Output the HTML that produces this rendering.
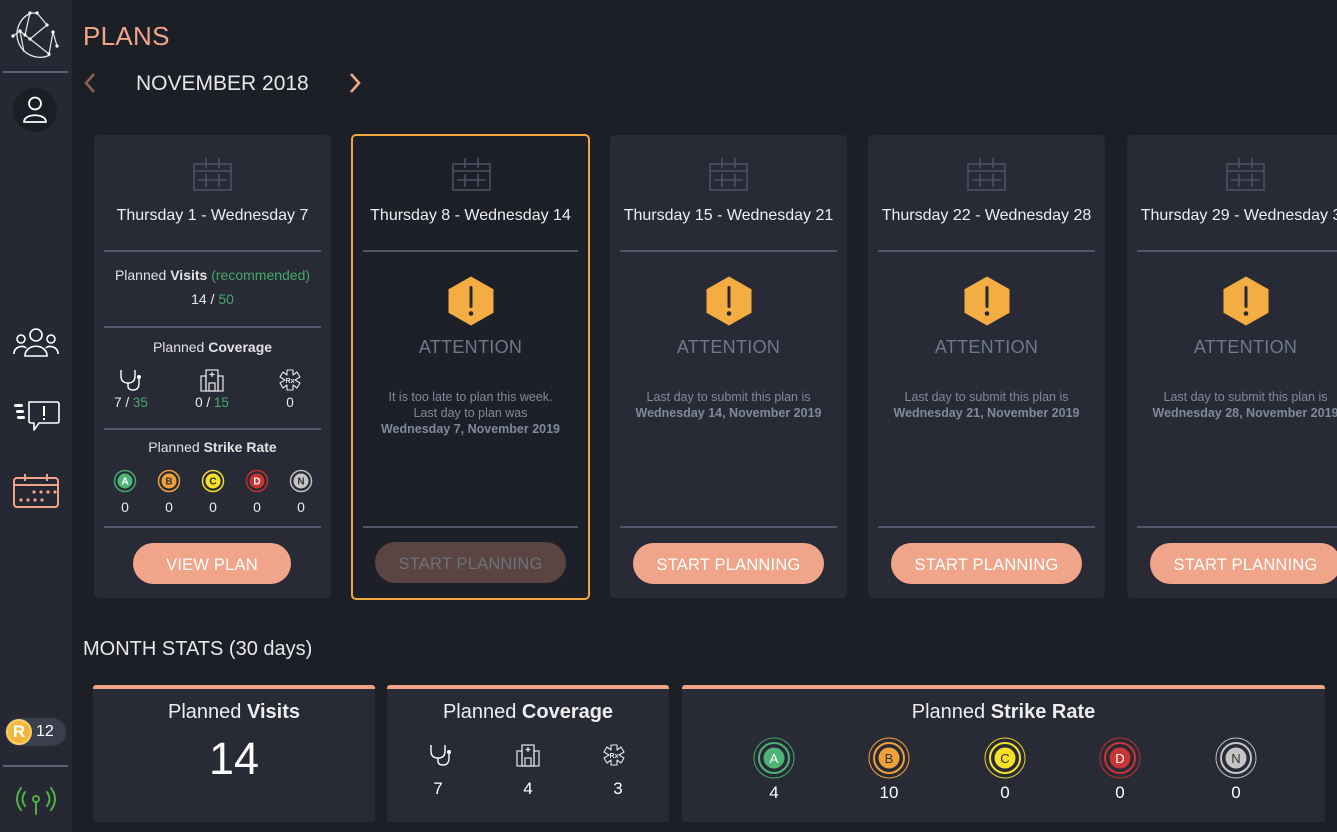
<!DOCTYPE html>
<html><head><meta charset="utf-8">
<style>
*{margin:0;padding:0;box-sizing:border-box}
body{width:1337px;height:832px;overflow:hidden;background:#1c1f26;font-family:"Liberation Sans",sans-serif;color:#e9e9ea;position:relative}
.abs{position:absolute}
.side{left:0;top:0;width:72px;height:832px;background:#262934}
.sdiv{position:absolute;left:3px;width:65px;height:2px;background:#5b6379}
.card{position:absolute;top:135px;width:237px;height:463px;background:#282b36;border-radius:5px;overflow:hidden}
.card.sel{top:134px;left:351px;width:239px;height:466px;background:#1e2029;border:2px solid #f0a73c}
.row{position:absolute;left:0;right:0;text-align:center;white-space:nowrap}
.dv{position:absolute;left:10px;right:10px;height:2px;background:#4f576b}
.ttl{font-size:16px;color:#eeeeee}
.btn{position:absolute;height:41px;border-radius:21px;background:#f0a58b;color:#fff;font-size:16.5px;text-align:center;line-height:44px;letter-spacing:0.2px}
.att{font-size:18px;color:#6d7a8c;letter-spacing:0.3px}
.sm{font-size:12.5px;color:#7f8a9a;line-height:16px}
.sm b{font-weight:bold}
.green{color:#46a86a}
.box{position:absolute;top:685px;height:137px;background:#282b36;border-top:4px solid #f0a58b;border-radius:3px}
.box .h{position:absolute;left:0;right:0;top:12px;text-align:center;font-size:20px;color:#eee}
</style></head><body>

<div class="abs side"></div>
<!-- logo -->
<svg class="abs" style="left:8px;top:8px" width="56" height="56" viewBox="8 8 56 56">
<path d="M30 13.5 A21.5 21.5 0 1 0 50 55" fill="none" stroke="#e8e8e8" stroke-width="1.3"/>
<g stroke="#e8e8e8" stroke-width="1.2" fill="none">
<polyline points="30,13 37,13 47,25 30,39 49,54 53,32 57,46"/>
<polyline points="30,13 25,35 20,31 24,52"/>
<polyline points="25,35 30,39"/>
<polyline points="13,36 20,31"/>
</g>
<g fill="#fff"><circle cx="30" cy="13" r="1.6"/><circle cx="37" cy="13" r="1.6"/><circle cx="47" cy="25" r="1.6"/><circle cx="20" cy="31" r="1.6"/><circle cx="13" cy="36" r="1.6"/><circle cx="25" cy="35" r="1.6"/><circle cx="30" cy="39" r="1.6"/><circle cx="49" cy="54" r="1.6"/><circle cx="53" cy="32" r="1.6"/><circle cx="57" cy="46" r="1.6"/></g>
</svg>
<div class="sdiv" style="top:71px"></div>
<!-- user -->
<div class="abs" style="left:13px;top:88px;width:44px;height:44px;border-radius:50%;background:#1b1e25"></div>
<svg class="abs" style="left:22px;top:95px" width="26" height="30" viewBox="0 0 26 30"><circle cx="13" cy="8.5" r="6" fill="none" stroke="#fff" stroke-width="1.8"/><path d="M2 27 C2 18 24 18 24 27 Z" fill="none" stroke="#fff" stroke-width="1.8" stroke-linejoin="round"/></svg>
<!-- people -->
<svg class="abs" style="left:12px;top:326px" width="48" height="34" viewBox="0 0 48 34"><g fill="none" stroke="#fff" stroke-width="1.6"><circle cx="24" cy="9" r="6"/><path d="M13 30 C13 17 35 17 35 30 Z"/><circle cx="9" cy="13" r="4"/><path d="M2 28 C2 20 12 19 14 22"/><circle cx="39" cy="13" r="4"/><path d="M46 28 C46 20 36 19 34 22"/></g></svg>
<!-- message -->
<svg class="abs" style="left:12px;top:400px" width="48" height="34" viewBox="0 0 48 34"><g fill="#fff"><rect x="2" y="4" width="9" height="3" rx="1.5"/><rect x="4" y="10" width="8" height="3" rx="1.5"/><rect x="5" y="16" width="8" height="3" rx="1.5"/></g><path d="M17 2 H45 Q47 2 47 4 V21 Q47 23 45 23 H27 L22 30 V23 H19 Q17 23 17 21 Z" fill="none" stroke="#fff" stroke-width="1.6" stroke-linejoin="round"/><rect x="31" y="6" width="2" height="10" fill="#fff"/><rect x="31" y="18" width="2" height="2" fill="#fff"/></svg>
<!-- calendar sidebar -->
<svg class="abs" style="left:12px;top:472px" width="48" height="38" viewBox="0 0 48 38"><g fill="none" stroke="#f0a58b" stroke-width="2"><rect x="2" y="6" width="44" height="29" rx="3"/><line x1="2" y1="13" x2="46" y2="13"/><line x1="13" y1="2" x2="13" y2="9"/><line x1="35" y1="2" x2="35" y2="9"/></g><g fill="#f0a58b"><circle cx="22" cy="20" r="1.6"/><circle cx="29" cy="20" r="1.6"/><circle cx="36" cy="20" r="1.6"/><circle cx="43" cy="20" r="1.6"/><circle cx="9" cy="28" r="1.6"/><circle cx="16" cy="28" r="1.6"/><circle cx="23" cy="28" r="1.6"/><circle cx="30" cy="28" r="1.6"/></g></svg>
<!-- badge -->
<div class="abs" style="left:5px;top:718px;width:61px;height:28px;border-radius:14px;background:#3a3f4e"></div>
<div class="abs" style="left:6px;top:719px;width:26px;height:26px;border-radius:50%;background:#f3b63a;border:2px solid #f7cf6c;color:#fff;font-size:17px;font-weight:bold;text-align:center;line-height:22px">R</div>
<div class="abs" style="left:36px;top:723px;font-size:16px;color:#fff">12</div>
<div class="sdiv" style="top:765px"></div>
<!-- antenna -->
<svg class="abs" style="left:12px;top:784px" width="48" height="34" viewBox="0 0 48 34"><g fill="none" stroke="#4fb043" stroke-width="2" stroke-linecap="round"><path d="M9 4 Q1 15 9 26"/><path d="M13 8 Q8 15 13 22"/><path d="M39 4 Q47 15 39 26"/><path d="M35 8 Q40 15 35 22"/><circle cx="24" cy="15" r="3"/><line x1="24" y1="18" x2="24" y2="30"/></g></svg>

<!-- header -->
<div class="abs" style="left:83px;top:21px;font-size:26px;color:#f0a58b;letter-spacing:0.3px">PLANS</div>
<svg class="abs" style="left:83px;top:72px" width="14" height="22"><polyline points="11,2 3,11 11,20" fill="none" stroke="#8c5f53" stroke-width="2.6"/></svg>
<div class="abs" style="left:136px;top:72px;font-size:21px;color:#e8e8e8">NOVEMBER 2018</div>
<svg class="abs" style="left:348px;top:72px" width="14" height="22"><polyline points="3,2 11,11 3,20" fill="none" stroke="#f0a58b" stroke-width="2.6"/></svg>

<!-- Card 1 -->
<div class="card" style="left:94px">
 <svg class="abs" style="left:99px;top:23px" width="39" height="33" viewBox="0 0 39 33"><g fill="none" stroke="#4a5163" stroke-width="1.6"><rect x="1" y="6" width="37" height="26"/><line x1="1" y1="13" x2="38" y2="13"/><line x1="13" y1="0" x2="13" y2="10"/><line x1="26" y1="0" x2="26" y2="10"/><line x1="5" y1="22" x2="34" y2="22"/><line x1="13" y1="16" x2="13" y2="29"/><line x1="26" y1="16" x2="26" y2="29"/></g></svg>
 <div class="row ttl" style="top:72px">Thursday 1 - Wednesday 7</div>
 <div class="dv" style="top:115px"></div>
 <div class="row" style="top:132px;font-size:14px;color:#e2e2e2">Planned <b>Visits</b> <span class="green">(recommended)</span></div>
 <div class="row" style="top:156px;font-size:14px;color:#eee">14 / <span class="green">50</span></div>
 <div class="dv" style="top:191px"></div>
 <div class="row" style="top:204px;font-size:14px;color:#e2e2e2">Planned <b>Coverage</b></div>
 <!-- coverage icons -->
 <svg class="abs" style="left:24px;top:233px" width="26" height="24" viewBox="0 0 26 24"><path d="M3 2 V8 Q3 15 10 15 Q17 15 17 8 V2 M10 15 V18 Q10 22 15 22 Q21 22 21 15 V10" fill="none" stroke="#fff" stroke-width="1.4"/><circle cx="21" cy="9" r="2" fill="#fff"/></svg>
 <svg class="abs" style="left:106px;top:233px" width="24" height="24" viewBox="0 0 24 24"><g fill="none" stroke="#e8e8e8" stroke-width="1.2"><rect x="6" y="2" width="12" height="21"/><rect x="1" y="8" width="5" height="15"/><rect x="18" y="8" width="5" height="15"/><rect x="9" y="15" width="6" height="8"/></g><path d="M12 4 V9 M9.5 6.5 H14.5" stroke="#e8e8e8" stroke-width="1.2"/></svg>
 <svg class="abs" style="left:184px;top:233px" width="24" height="24" viewBox="0 0 24 24"><path d="M9 2 H15 V7 L19 4 L22 9 L17 12 L22 15 L19 20 L15 17 V22 H9 V17 L5 20 L2 15 L7 12 L2 9 L5 4 L9 7 Z" fill="none" stroke="#e8e8e8" stroke-width="1.1" stroke-linejoin="round"/><text x="12" y="15" font-size="7" fill="#e8e8e8" text-anchor="middle" font-family="Liberation Sans" font-weight="bold">Rx</text></svg>
 <div class="abs" style="left:15px;top:260px;width:44px;text-align:center;font-size:13.5px;color:#eee">7 / <span class="green">35</span></div>
 <div class="abs" style="left:94px;top:260px;width:48px;text-align:center;font-size:13.5px;color:#eee">0 / <span class="green">15</span></div>
 <div class="abs" style="left:186px;top:260px;width:20px;text-align:center;font-size:13.5px;color:#eee">0</div>
 <div class="dv" style="top:293px"></div>
 <div class="row" style="top:304px;font-size:14px;color:#e2e2e2">Planned <b>Strike Rate</b></div>
 <svg class="abs" style="left:0;top:333px" width="237" height="26" viewBox="0 0 237 26">
  <g font-family="Liberation Sans" font-size="10" text-anchor="middle" font-weight="bold">
   <circle cx="31" cy="13" r="10.5" fill="none" stroke="#46a86a" stroke-width="1.5"/><circle cx="31" cy="13" r="7.5" fill="#4db377"/><text x="31" y="16.5" fill="#fff">A</text>
   <circle cx="75" cy="13" r="10.5" fill="none" stroke="#f0a23a" stroke-width="1.5"/><circle cx="75" cy="13" r="7.5" fill="#f0a23a"/><text x="75" y="16.5" fill="#333">B</text>
   <circle cx="119" cy="13" r="10.5" fill="none" stroke="#f0dc2a" stroke-width="1.5"/><circle cx="119" cy="13" r="7.5" fill="#f5e12a"/><text x="119" y="16.5" fill="#333">C</text>
   <circle cx="163" cy="13" r="10.5" fill="none" stroke="#c03030" stroke-width="1.5"/><circle cx="163" cy="13" r="7.5" fill="#c93532"/><text x="163" y="16.5" fill="#fff">D</text>
   <circle cx="207" cy="13" r="10.5" fill="none" stroke="#bdbdbd" stroke-width="1.5"/><circle cx="207" cy="13" r="7.5" fill="#c4c4c4"/><text x="207" y="16.5" fill="#333">N</text>
  </g></svg>
 <div class="abs" style="top:364px;left:0;width:237px;height:16px;font-size:14px;color:#eee">
  <span class="abs" style="left:25px;width:12px;text-align:center">0</span>
  <span class="abs" style="left:69px;width:12px;text-align:center">0</span>
  <span class="abs" style="left:113px;width:12px;text-align:center">0</span>
  <span class="abs" style="left:157px;width:12px;text-align:center">0</span>
  <span class="abs" style="left:201px;width:12px;text-align:center">0</span>
 </div>
 <div class="dv" style="top:391px"></div>
 <div class="btn" style="left:39px;top:408px;width:158px">VIEW PLAN</div>
</div>

<!-- Card 2 selected -->
<div class="card sel">
 <svg class="abs" style="left:99px;top:22px" width="39" height="33" viewBox="0 0 39 33"><g fill="none" stroke="#4a5163" stroke-width="1.6"><rect x="1" y="6" width="37" height="26"/><line x1="1" y1="13" x2="38" y2="13"/><line x1="13" y1="0" x2="13" y2="10"/><line x1="26" y1="0" x2="26" y2="10"/><line x1="5" y1="22" x2="34" y2="22"/><line x1="13" y1="16" x2="13" y2="29"/><line x1="26" y1="16" x2="26" y2="29"/></g></svg>
 <div class="row ttl" style="top:71px">Thursday 8 - Wednesday 14</div>
 <div class="dv" style="top:114px"></div>
 <svg class="abs" style="left:95px;top:140px" width="46" height="50" viewBox="0 0 46 50"><polygon points="23,1 45,13.5 45,36.5 23,49 1,36.5 1,13.5" fill="#f4ad42" stroke="#f4ad42" stroke-width="1" stroke-linejoin="round"/><rect x="21.5" y="10" width="3" height="22" rx="1.5" fill="#262833"/><circle cx="23" cy="37.5" r="2.3" fill="#262833"/></svg>
 <div class="row att" style="top:201px">ATTENTION</div>
 <div class="row sm" style="top:253px">It is too late to plan this week.<br>Last day to plan was<br><b>Wednesday 7, November 2019</b></div>
 <div class="dv" style="top:390px"></div>
 <div class="btn" style="left:22px;top:406px;width:191px;background:#5a4542;color:#6e717b">START PLANNING</div>
</div>

<!-- Cards 3-5 -->
<div class="card" style="left:610px">
 <svg class="abs" style="left:99px;top:23px" width="39" height="33" viewBox="0 0 39 33"><g fill="none" stroke="#4a5163" stroke-width="1.6"><rect x="1" y="6" width="37" height="26"/><line x1="1" y1="13" x2="38" y2="13"/><line x1="13" y1="0" x2="13" y2="10"/><line x1="26" y1="0" x2="26" y2="10"/><line x1="5" y1="22" x2="34" y2="22"/><line x1="13" y1="16" x2="13" y2="29"/><line x1="26" y1="16" x2="26" y2="29"/></g></svg>
 <div class="row ttl" style="top:72px">Thursday 15 - Wednesday 21</div>
 <div class="dv" style="top:115px"></div>
 <svg class="abs" style="left:96px;top:141px" width="46" height="50" viewBox="0 0 46 50"><polygon points="23,1 45,13.5 45,36.5 23,49 1,36.5 1,13.5" fill="#f4ad42" stroke="#f4ad42" stroke-width="1" stroke-linejoin="round"/><rect x="21.5" y="10" width="3" height="22" rx="1.5" fill="#262833"/><circle cx="23" cy="37.5" r="2.3" fill="#262833"/></svg>
 <div class="row att" style="top:202px">ATTENTION</div>
 <div class="row sm" style="top:254px">Last day to submit this plan is<br><b>Wednesday 14, November 2019</b></div>
 <div class="dv" style="top:391px"></div>
 <div class="btn" style="left:23px;top:408px;width:191px">START PLANNING</div>
</div>
<div class="card" style="left:868px">
 <svg class="abs" style="left:99px;top:23px" width="39" height="33" viewBox="0 0 39 33"><g fill="none" stroke="#4a5163" stroke-width="1.6"><rect x="1" y="6" width="37" height="26"/><line x1="1" y1="13" x2="38" y2="13"/><line x1="13" y1="0" x2="13" y2="10"/><line x1="26" y1="0" x2="26" y2="10"/><line x1="5" y1="22" x2="34" y2="22"/><line x1="13" y1="16" x2="13" y2="29"/><line x1="26" y1="16" x2="26" y2="29"/></g></svg>
 <div class="row ttl" style="top:72px">Thursday 22 - Wednesday 28</div>
 <div class="dv" style="top:115px"></div>
 <svg class="abs" style="left:96px;top:141px" width="46" height="50" viewBox="0 0 46 50"><polygon points="23,1 45,13.5 45,36.5 23,49 1,36.5 1,13.5" fill="#f4ad42" stroke="#f4ad42" stroke-width="1" stroke-linejoin="round"/><rect x="21.5" y="10" width="3" height="22" rx="1.5" fill="#262833"/><circle cx="23" cy="37.5" r="2.3" fill="#262833"/></svg>
 <div class="row att" style="top:202px">ATTENTION</div>
 <div class="row sm" style="top:254px">Last day to submit this plan is<br><b>Wednesday 21, November 2019</b></div>
 <div class="dv" style="top:391px"></div>
 <div class="btn" style="left:23px;top:408px;width:191px">START PLANNING</div>
</div>
<div class="card" style="left:1127px">
 <svg class="abs" style="left:99px;top:23px" width="39" height="33" viewBox="0 0 39 33"><g fill="none" stroke="#4a5163" stroke-width="1.6"><rect x="1" y="6" width="37" height="26"/><line x1="1" y1="13" x2="38" y2="13"/><line x1="13" y1="0" x2="13" y2="10"/><line x1="26" y1="0" x2="26" y2="10"/><line x1="5" y1="22" x2="34" y2="22"/><line x1="13" y1="16" x2="13" y2="29"/><line x1="26" y1="16" x2="26" y2="29"/></g></svg>
 <div class="row ttl" style="top:72px">Thursday 29 - Wednesday 30</div>
 <div class="dv" style="top:115px"></div>
 <svg class="abs" style="left:96px;top:141px" width="46" height="50" viewBox="0 0 46 50"><polygon points="23,1 45,13.5 45,36.5 23,49 1,36.5 1,13.5" fill="#f4ad42" stroke="#f4ad42" stroke-width="1" stroke-linejoin="round"/><rect x="21.5" y="10" width="3" height="22" rx="1.5" fill="#262833"/><circle cx="23" cy="37.5" r="2.3" fill="#262833"/></svg>
 <div class="row att" style="top:202px">ATTENTION</div>
 <div class="row sm" style="top:254px">Last day to submit this plan is<br><b>Wednesday 28, November 2019</b></div>
 <div class="dv" style="top:391px"></div>
 <div class="btn" style="left:23px;top:408px;width:191px">START PLANNING</div>
</div>

<!-- Month stats -->
<div class="abs" style="left:83px;top:638px;font-size:20px;color:#e8e8e8">MONTH STATS (30 days)</div>

<div class="box" style="left:93px;width:282px">
 <div class="h">Planned <b>Visits</b></div>
 <div class="abs" style="left:0;right:0;top:44px;text-align:center;font-size:45px;color:#fff">14</div>
</div>
<div class="box" style="left:387px;width:282px">
 <div class="h">Planned <b>Coverage</b></div>
 <svg class="abs" style="left:41px;top:54px" width="26" height="24" viewBox="0 0 26 24"><path d="M3 2 V8 Q3 15 10 15 Q17 15 17 8 V2 M10 15 V18 Q10 22 15 22 Q21 22 21 15 V10" fill="none" stroke="#fff" stroke-width="1.4"/><circle cx="21" cy="9" r="2" fill="#fff"/></svg>
 <svg class="abs" style="left:129px;top:54px" width="24" height="24" viewBox="0 0 24 24"><g fill="none" stroke="#e8e8e8" stroke-width="1.2"><rect x="6" y="2" width="12" height="21"/><rect x="1" y="8" width="5" height="15"/><rect x="18" y="8" width="5" height="15"/><rect x="9" y="15" width="6" height="8"/></g><path d="M12 4 V9 M9.5 6.5 H14.5" stroke="#e8e8e8" stroke-width="1.2"/></svg>
 <svg class="abs" style="left:215px;top:54px" width="24" height="24" viewBox="0 0 24 24"><path d="M9 2 H15 V7 L19 4 L22 9 L17 12 L22 15 L19 20 L15 17 V22 H9 V17 L5 20 L2 15 L7 12 L2 9 L5 4 L9 7 Z" fill="none" stroke="#e8e8e8" stroke-width="1.1" stroke-linejoin="round"/><text x="12" y="15" font-size="7" fill="#e8e8e8" text-anchor="middle" font-family="Liberation Sans" font-weight="bold">Rx</text></svg>
 <div class="abs" style="left:41px;top:90px;width:20px;text-align:center;font-size:17px;color:#fff">7</div>
 <div class="abs" style="left:131px;top:90px;width:20px;text-align:center;font-size:17px;color:#fff">4</div>
 <div class="abs" style="left:221px;top:90px;width:20px;text-align:center;font-size:17px;color:#fff">3</div>
</div>
<div class="box" style="left:682px;width:643px">
 <div class="h">Planned <b>Strike Rate</b></div>
 <svg class="abs" style="left:0;top:47px" width="643" height="44" viewBox="0 0 643 44">
  <g font-family="Liberation Sans" font-size="13" text-anchor="middle">
   <circle cx="92" cy="22" r="20" fill="none" stroke="#46a86a" stroke-width="1"/><circle cx="92" cy="22" r="15" fill="none" stroke="#4db377" stroke-width="2"/><circle cx="92" cy="22" r="10.5" fill="#4db377"/><text x="92" y="27" fill="#fff">A</text>
   <circle cx="207" cy="22" r="20" fill="none" stroke="#f0a23a" stroke-width="1"/><circle cx="207" cy="22" r="15" fill="none" stroke="#f0a23a" stroke-width="2"/><circle cx="207" cy="22" r="10.5" fill="#f0a23a"/><text x="207" y="27" fill="#333">B</text>
   <circle cx="323" cy="22" r="20" fill="none" stroke="#e9d52a" stroke-width="1"/><circle cx="323" cy="22" r="15" fill="none" stroke="#f5e12a" stroke-width="2"/><circle cx="323" cy="22" r="10.5" fill="#f5e12a"/><text x="323" y="27" fill="#333">C</text>
   <circle cx="438" cy="22" r="20" fill="none" stroke="#c03030" stroke-width="1"/><circle cx="438" cy="22" r="15" fill="none" stroke="#c93532" stroke-width="2"/><circle cx="438" cy="22" r="10.5" fill="#c93532"/><text x="438" y="27" fill="#fff">D</text>
   <circle cx="554" cy="22" r="20" fill="none" stroke="#bdbdbd" stroke-width="1"/><circle cx="554" cy="22" r="15" fill="none" stroke="#c4c4c4" stroke-width="2"/><circle cx="554" cy="22" r="10.5" fill="#c4c4c4"/><text x="554" y="27" fill="#333">N</text>
  </g></svg>
 <div class="abs" style="left:77px;top:94px;width:30px;text-align:center;font-size:17px;color:#fff">4</div>
 <div class="abs" style="left:192px;top:94px;width:30px;text-align:center;font-size:17px;color:#fff">10</div>
 <div class="abs" style="left:308px;top:94px;width:30px;text-align:center;font-size:17px;color:#fff">0</div>
 <div class="abs" style="left:423px;top:94px;width:30px;text-align:center;font-size:17px;color:#fff">0</div>
 <div class="abs" style="left:539px;top:94px;width:30px;text-align:center;font-size:17px;color:#fff">0</div>
</div>

</body></html>
